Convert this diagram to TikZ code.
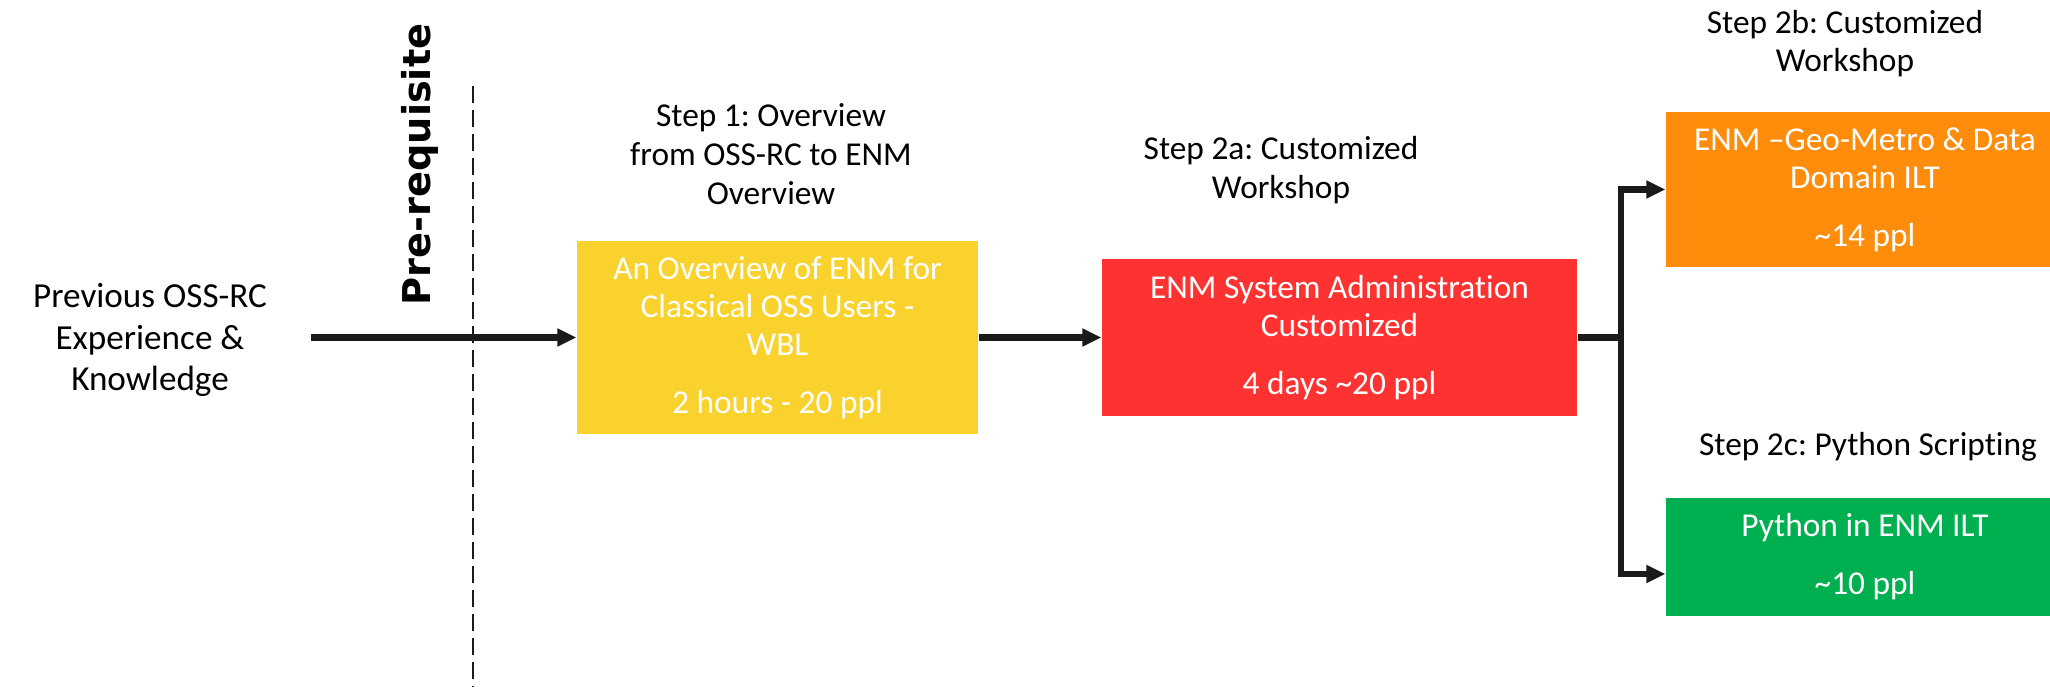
\documentclass[tikz,border=0pt]{standalone}
\usepackage{fontspec}
\setmainfont{Carlito}[Ligatures=NoCommon]
\newfontfamily\prefont{DejaVu Sans}
\usepackage{tikz}
\usetikzlibrary{arrows.meta, positioning, calc}

\definecolor{stepyellow}{RGB}{250,210,45}
\definecolor{stepred}{RGB}{255,50,50}
\definecolor{steporange}{RGB}{255,140,10}
\definecolor{stepgreen}{RGB}{0,176,80}
\definecolor{linedark}{RGB}{26,26,26}

\frenchspacing

\begin{document}
\begin{tikzpicture}[
    box/.style={rectangle, text=white, align=center, inner sep=0pt, font=\fontsize{9.5}{10.8}\selectfont},
    steplabel/.style={align=center, inner sep=1pt, font=\fontsize{9.5}{11}\selectfont},
    arrow/.style={-{Triangle[length=0.19cm,width=0.17cm]}, line width=1.8pt, color=linedark},
    link/.style={line width=1.8pt, color=linedark},
    divider/.style={line width=0.7pt, dash pattern=on 0.17cm off 0.07cm, color=linedark}
]
    \useasboundingbox (0,0) rectangle (20.5,-6.87);

    % Previous knowledge
    \node[steplabel, font=\fontsize{10}{11.7}\selectfont] (prev) at (1.50,-3.40) {Previous OSS-RC\\Experience \&\\Knowledge};

    % Pre-requisite line
    \coordinate (div_top) at (4.73,-0.86);
    \coordinate (div_bot) at (4.73,-6.87);
    \draw[divider] (div_top) -- (div_bot);
    \node[rotate=90, inner sep=0pt, font=\prefont\bfseries\fontsize{10.9}{12}\selectfont] (prereq) at (4.20,-1.645) {Pre-requisite};

    % Step 1
    \node[box, fill=stepyellow, minimum width=4.01cm, minimum height=1.93cm] (overview) at (7.775,-3.375) {An Overview of ENM for\\Classical OSS Users -\\WBL\\[0.2cm]2 hours - 20 ppl};
    \node[steplabel] (step1) at (7.71,-1.54) {Step 1: Overview\\from OSS-RC to ENM\\Overview};

    % Step 2a
    \node[box, fill=stepred, minimum width=4.75cm, minimum height=1.57cm] (sysadmin) at (13.395,-3.375) {ENM System Administration\\Customized\\[0.2cm]4 days \textasciitilde20 ppl};
    \node[steplabel] (step2a) at (12.81,-1.70) {Step 2a: Customized\\Workshop};

    % Step 2b
    \node[box, fill=steporange, minimum width=3.98cm, minimum height=1.55cm] (geometro) at (18.65,-1.895) {ENM --Geo-Metro \& Data\\Domain ILT\\[0.2cm]\textasciitilde14 ppl};
    \node[steplabel] (step2b) at (18.45,-0.435) {Step 2b: Customized\\Workshop};

    % Step 2c
    \node[box, fill=stepgreen, minimum width=3.98cm, minimum height=1.18cm] (python) at (18.65,-5.57) {Python in ENM ILT\\[0.2cm]\textasciitilde10 ppl};
    \node[steplabel] (step2c) at (18.68,-4.47) {Step 2c: Python Scripting};

    % Connect components
    \coordinate (prev_out) at (3.11,-3.375);
    \coordinate (split) at (16.21,-3.375);
    \coordinate (python_in) at ($(python.west)+(0,-0.17)$);
    \draw[arrow] (prev_out) -- (overview);
    \draw[arrow] (overview) -- (sysadmin);
    \draw[link] (sysadmin) -- (split);
    \draw[arrow] (split) |- (geometro);
    \draw[arrow] (split) |- (python_in);

\end{tikzpicture}
\end{document}
